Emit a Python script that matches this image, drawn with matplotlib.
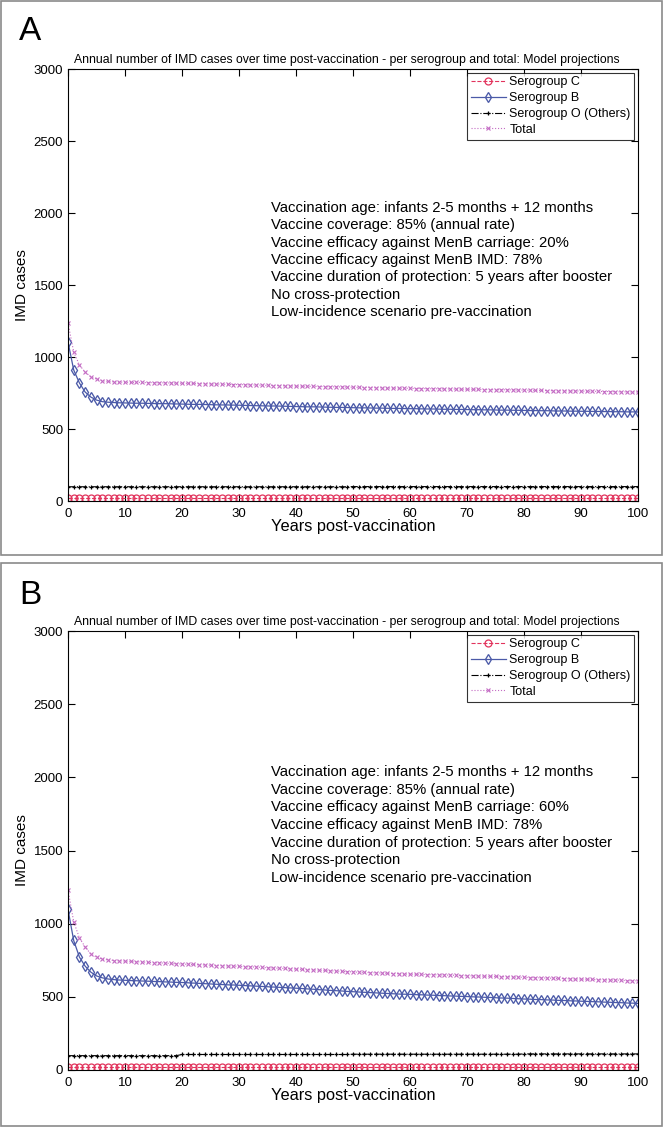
import matplotlib
matplotlib.use('Agg')
import matplotlib.pyplot as plt
import matplotlib.patches as mpatches
import numpy as np

plt.rcParams['font.family'] = ['Liberation Sans', 'DejaVu Sans']

years = np.arange(0, 101)

# ---------------- panel A data (carriage efficacy 20%) ----------------
A_C = [20, 20, 20, 20, 20, 20, 20, 20, 20, 20,
       20, 20, 20, 20, 20, 20, 20, 20, 20, 20,
       20, 20, 20, 20, 20, 20, 20, 20, 20, 20,
       20, 20, 20, 20, 20, 20, 20, 20, 20, 20,
       20, 20, 20, 20, 20, 20, 20, 20, 20, 20,
       20, 20, 20, 20, 20, 20, 20, 20, 20, 20,
       20, 20, 20, 20, 20, 20, 20, 20, 20, 20,
       20, 20, 20, 20, 20, 20, 20, 20, 20, 20,
       20, 20, 20, 20, 20, 20, 20, 20, 20, 20,
       20, 20, 20, 20, 20, 20, 20, 20, 20, 20,
       20]
A_B = [1104, 910, 820, 757, 722, 701, 690, 686, 684, 682,
       681, 680, 679, 679, 678, 677, 676, 676, 675, 674,
       673, 672, 671, 671, 670, 669, 668, 667, 667, 666,
       665, 664, 663, 662, 661, 660, 660, 659, 658, 657,
       656, 655, 654, 654, 653, 652, 651, 650, 650, 649,
       648, 647, 647, 646, 645, 645, 644, 643, 643, 642,
       641, 641, 640, 639, 639, 638, 637, 637, 636, 636,
       635, 634, 634, 633, 633, 632, 631, 631, 630, 630,
       629, 628, 628, 627, 627, 626, 625, 625, 624, 624,
       623, 623, 622, 622, 621, 621, 620, 620, 619, 619,
       618]
A_O = [99, 99, 99, 99, 99, 99, 99, 99, 99, 99,
       99, 99, 99, 99, 99, 99, 99, 99, 99, 99,
       99, 99, 99, 99, 99, 99, 99, 99, 99, 99,
       99, 99, 99, 99, 99, 99, 99, 99, 99, 99,
       99, 99, 99, 99, 99, 99, 99, 99, 99, 99,
       100, 100, 100, 100, 100, 100, 100, 100, 100, 100,
       100, 100, 100, 100, 100, 100, 100, 100, 100, 100,
       100, 100, 100, 100, 100, 100, 100, 100, 100, 100,
       100, 100, 100, 100, 100, 100, 100, 100, 100, 100,
       100, 100, 100, 100, 100, 100, 100, 100, 100, 100,
       100]
A_T = [1236, 1035, 944, 896, 862, 847, 835, 830, 828, 826,
       825, 824, 824, 823, 822, 822, 821, 820, 819, 819,
       818, 817, 816, 815, 814, 813, 812, 811, 810, 809,
       808, 807, 806, 805, 804, 803, 802, 801, 800, 799,
       798, 797, 796, 796, 795, 794, 793, 792, 792, 791,
       790, 789, 788, 788, 787, 786, 785, 784, 784, 783,
       782, 781, 781, 780, 779, 779, 778, 778, 777, 776,
       776, 775, 775, 774, 773, 773, 772, 772, 771, 770,
       770, 769, 768, 768, 767, 766, 766, 765, 764, 764,
       763, 762, 762, 761, 760, 760, 759, 758, 758, 757,
       757]

# ---------------- panel B data (carriage efficacy 60%) ----------------
B_C = [20, 20, 20, 20, 20, 20, 20, 20, 20, 20,
       20, 20, 20, 20, 20, 20, 20, 20, 20, 20,
       20, 20, 20, 20, 20, 20, 20, 20, 20, 20,
       20, 20, 20, 20, 20, 20, 20, 20, 20, 20,
       20, 20, 20, 20, 20, 20, 20, 20, 20, 20,
       20, 20, 20, 20, 20, 20, 20, 20, 20, 20,
       20, 20, 20, 20, 20, 20, 20, 20, 20, 20,
       20, 20, 20, 20, 20, 20, 20, 20, 20, 20,
       20, 20, 20, 20, 20, 20, 20, 20, 20, 20,
       20, 20, 20, 20, 20, 20, 20, 20, 20, 20,
       20]
B_B = [1097, 885, 772, 710, 669, 643, 630, 622, 618, 615,
       613, 611, 610, 608, 607, 605, 604, 602, 601, 599,
       598, 596, 594, 592, 590, 588, 586, 584, 582, 581,
       579, 577, 575, 573, 571, 569, 567, 565, 563, 561,
       559, 557, 554, 552, 549, 547, 544, 542, 540, 537,
       535, 533, 531, 529, 527, 525, 523, 521, 519, 518,
       517, 515, 514, 512, 511, 509, 508, 506, 505, 503,
       502, 500, 499, 497, 496, 494, 492, 491, 489, 487,
       485, 484, 482, 481, 479, 478, 476, 475, 473, 472,
       470, 469, 467, 466, 464, 463, 461, 460, 458, 457,
       455]
B_O = [98, 98, 98, 98, 98, 98, 98, 98, 98, 98,
       98, 98, 98, 98, 98, 98, 98, 98, 98, 98,
       106, 106, 106, 106, 106, 106, 106, 106, 106, 106,
       106, 106, 106, 106, 106, 106, 106, 106, 106, 106,
       106, 106, 106, 106, 106, 106, 106, 106, 106, 106,
       108, 108, 108, 108, 108, 108, 108, 108, 108, 108,
       108, 108, 108, 108, 108, 108, 108, 108, 108, 108,
       108, 108, 108, 108, 108, 108, 108, 108, 108, 108,
       110, 110, 110, 110, 110, 110, 110, 110, 110, 110,
       110, 110, 110, 110, 110, 110, 110, 110, 110, 110,
       110]
B_T = [1230, 1013, 903, 841, 793, 770, 759, 752, 748, 746,
       744, 742, 740, 738, 736, 734, 732, 730, 728, 726,
       724, 722, 721, 719, 718, 716, 714, 713, 711, 710,
       708, 706, 704, 703, 701, 699, 697, 695, 694, 692,
       690, 688, 686, 684, 682, 680, 678, 676, 674, 672,
       670, 668, 667, 665, 664, 662, 661, 659, 658, 656,
       655, 654, 653, 652, 651, 650, 649, 648, 647, 645,
       644, 643, 642, 641, 640, 639, 638, 637, 636, 634,
       633, 632, 631, 629, 628, 627, 626, 625, 623, 622,
       621, 620, 619, 617, 616, 615, 614, 613, 611, 610,
       609]

title = 'Annual number of IMD cases over time post-vaccination - per serogroup and total: Model projections'
labels = ['Serogroup C', 'Serogroup B', 'Serogroup O (Others)', 'Total']
notes_A = ['Vaccination age: infants 2-5 months + 12 months',
           'Vaccine coverage: 85% (annual rate)',
           'Vaccine efficacy against MenB carriage: 20%',
           'Vaccine efficacy against MenB IMD: 78%',
           'Vaccine duration of protection: 5 years after booster',
           'No cross-protection',
           'Low-incidence scenario pre-vaccination']
notes_B = list(notes_A)
notes_B[2] = 'Vaccine efficacy against MenB carriage: 60%'

W, H = 665, 1128
fig = plt.figure(figsize=(W/100, H/100), dpi=100)

# panel frames
for y0, y1 in [(1, 555), (563, 1126)]:
    fig.patches.append(mpatches.Rectangle((1/W, 1 - y1/H), 661/W, (y1 - y0)/H,
                                          transform=fig.transFigure, fill=False,
                                          edgecolor='#8a8a8a', linewidth=1.2))

def draw_panel(rect, letter, letter_y, C, B, O, T, notes):
    ax = fig.add_axes(rect)
    ax.plot(years, C, color='#e2335c', ls='--', lw=0.8, marker='o', ms=5,
            mfc='none', mew=0.9, label=labels[0])
    ax.plot(years, B, color='#4b5aa8', ls='-', lw=0.9, marker='d', ms=5.4,
            mfc='none', mew=0.95, label=labels[1])
    ax.plot(years, O, color='black', ls='-.', lw=0.8, marker='+', ms=3.5,
            mew=0.9, label=labels[2])
    ax.plot(years, T, color='#c46cc4', ls=':', lw=0.8, marker='x', ms=3.5,
            mew=0.8, label=labels[3])
    ax.set_xlim(0, 100)
    ax.set_ylim(0, 3000)
    ax.set_xticks(np.arange(0, 101, 10))
    ax.set_yticks(np.arange(0, 3001, 500))
    ax.tick_params(direction='in', length=5, width=0.8, top=True, right=True,
                   labelsize=9.5)
    ax.tick_params(axis='x', pad=5)
    for s in ax.spines.values():
        s.set_linewidth(0.8)
    ax.set_xlabel('Years post-vaccination', fontsize=11.8, labelpad=-1)
    ax.set_ylabel('IMD cases', fontsize=11, labelpad=3)
    ax.set_title(title, fontsize=8.85, pad=4, x=0.49)
    leg = ax.legend(loc='upper right', fontsize=9, frameon=True, fancybox=False,
                    handlelength=2.8, handletextpad=0.3, borderpad=0.3,
                    labelspacing=0.3, borderaxespad=0.3)
    leg.get_frame().set_edgecolor('black')
    leg.get_frame().set_linewidth(0.8)
    for i, line in enumerate(notes):
        ax.text(0.356, 0.678 - 0.04 * i, line, transform=ax.transAxes,
                fontsize=10.7, va='center', ha='left')
    fig.text(19/W, 1 - letter_y/H, letter, fontsize=24, va='top', ha='left')
    return ax

axA = draw_panel([68/W, 1 - 501/H, 570/W, 432/H], 'A', 16, A_C, A_B, A_O, A_T, notes_A)
axB = draw_panel([68/W, 1 - 1070/H, 570/W, 439/H], 'B', 580, B_C, B_B, B_O, B_T, notes_B)

fig.savefig('out.png', dpi=100)
